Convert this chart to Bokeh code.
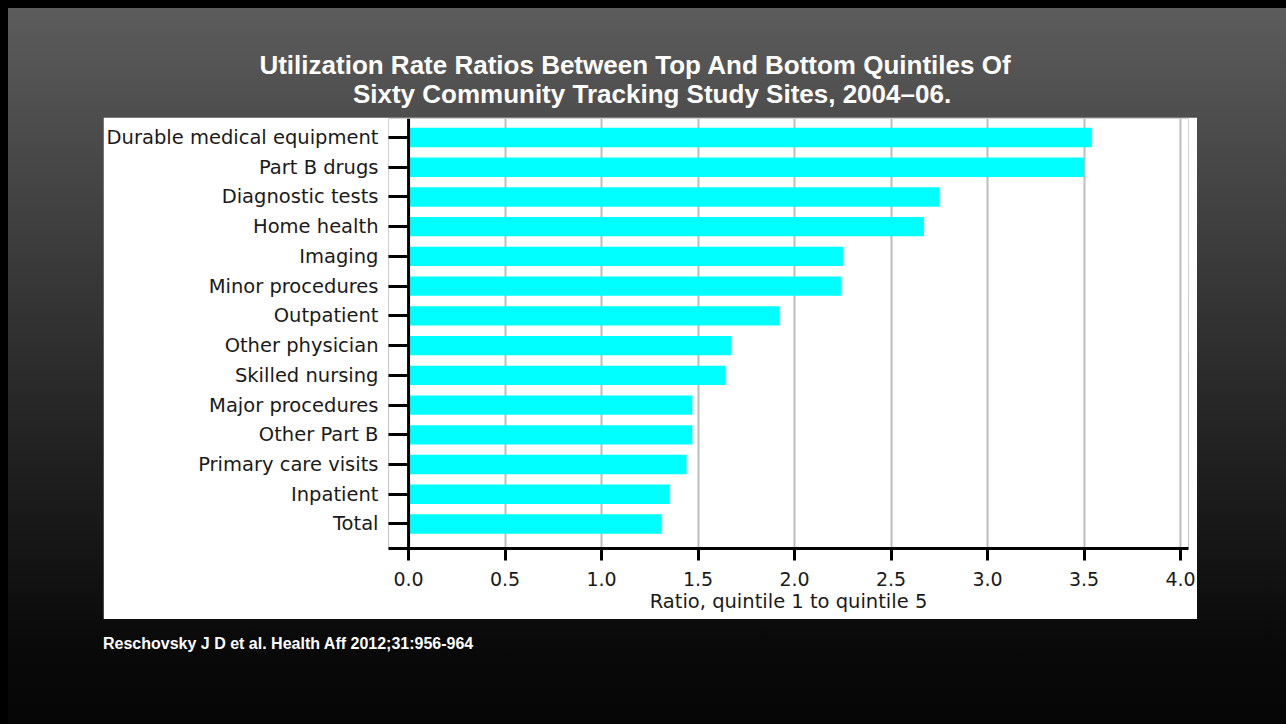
from bokeh.plotting import figure
from bokeh.models import (Span, FixedTicker, Range1d, Div, ColumnDataSource,
                          GlobalInlineStyleSheet, NumeralTickFormatter)
from bokeh.layouts import column
from bokeh.embed import file_html
from bokeh.resources import INLINE

# ---------------- data ----------------
categories = ["Durable medical equipment", "Part B drugs", "Diagnostic tests",
              "Home health", "Imaging", "Minor procedures", "Outpatient",
              "Other physician", "Skilled nursing", "Major procedures",
              "Other Part B", "Primary care visits", "Inpatient", "Total"]
ratios = [3.54, 3.50, 2.75, 2.67, 2.25, 2.24, 1.92,
          1.67, 1.64, 1.47, 1.47, 1.44, 1.35, 1.31]
x_ticks = [0.0, 0.5, 1.0, 1.5, 2.0, 2.5, 3.0, 3.5, 4.0]
title_lines = ["Utilization Rate Ratios Between Top And Bottom Quintiles Of",
               "Sixty Community Tracking Study Sites, 2004\u201306."]
x_label = "Ratio, quintile 1 to quintile 5"
source_note = "Reschovsky J D et al. Health Aff 2012;31:956-964"

n = len(categories)
ypos = [n - 1 - i for i in range(n)]
src = ColumnDataSource(dict(y=ypos, right=ratios, cat=categories))

FONT = "DejaVu Sans"

p = figure(width=1094, height=502, output_backend="svg", toolbar_location=None,
           x_range=Range1d(-0.104, 4.041), y_range=Range1d(-0.825, n - 1 + 0.64),
           min_border_left=285, min_border_right=9, min_border_top=1,
           min_border_bottom=71, background_fill_color="white",
           border_fill_color="white", outline_line_color=None,
           margin=(0, 0, 0, 95))

p.hbar(y="y", left=0, right="right", height=0.65, source=src,
       fill_color="#00FFFF", line_color=None)

p.add_layout(Span(location=0, dimension="height", line_color="black",
                  line_width=3))

# grid
p.ygrid.visible = False
p.xgrid.ticker = FixedTicker(ticks=x_ticks[1:])
p.xgrid.grid_line_color = "#bdbdbd"
p.xgrid.grid_line_width = 2

# x axis
xa = p.xaxis[0]
xa.ticker = FixedTicker(ticks=x_ticks)
xa.formatter = NumeralTickFormatter(format="0.0")
xa.axis_line_width = 3
xa.axis_line_color = "black"
xa.major_tick_line_width = 3
xa.major_tick_line_color = "black"
xa.major_tick_out = 12
xa.major_tick_in = 0
xa.minor_tick_line_color = None
xa.major_label_text_font = FONT
xa.major_label_text_font_size = "19px"
xa.major_label_text_color = "#1a1a1a"
xa.major_label_standoff = 11
xa.axis_label = x_label
xa.axis_label_text_font = FONT
xa.axis_label_text_font_size = "19.5px"
xa.axis_label_text_font_style = "normal"
xa.axis_label_text_color = "#1a1a1a"
xa.axis_label_standoff = 1

# y axis
ya = p.yaxis[0]
ya.ticker = FixedTicker(ticks=ypos)
ya.major_label_overrides = {y: c for y, c in zip(ypos, categories)}
ya.axis_line_color = None
ya.major_tick_line_width = 3
ya.major_tick_line_color = "black"
ya.major_tick_in = 20
ya.major_tick_out = 0
ya.minor_tick_line_color = None
ya.major_label_text_font = FONT
ya.major_label_text_font_size = "19.5px"
ya.major_label_text_color = "#1a1a1a"
ya.major_label_standoff = 10

title_html = (
    '<div style="width:1278px;padding-top:43px;font-family:\'Liberation Sans\',Arial,sans-serif;'
    'font-weight:bold;font-size:26px;line-height:29px;color:#ffffff;text-align:center;white-space:nowrap;">'
    '<div style="position:relative;left:-12px;">%s</div>'
    '<div style="position:relative;left:5px;">%s</div></div>' % (title_lines[0], title_lines[1])
)
title_div = Div(text=title_html, width=1278, height=109, margin=(0, 0, 0, 0))

src_html = (
    '<div style="padding-top:15px;font-family:\'Liberation Sans\',Arial,sans-serif;'
    'font-weight:bold;font-size:16px;line-height:19px;color:#ffffff;white-space:nowrap;">%s</div>' % source_note
)
src_div = Div(text=src_html, width=1183, height=105, margin=(0, 0, 0, 95))

layout = column(title_div, p, src_div, width=1278, height=716, spacing=0,
                margin=(8, 0, 0, 8),
                styles={"background": "linear-gradient(to bottom, #5c5c5c 0%, #2c2c2c 50%, #0a0a0a 88%, #050505 100%)"},
                stylesheets=[GlobalInlineStyleSheet(css="html,body{background:#000000;margin:0;padding:0;overflow:hidden;}")])

open("out.html", "w").write(file_html(layout, INLINE))
